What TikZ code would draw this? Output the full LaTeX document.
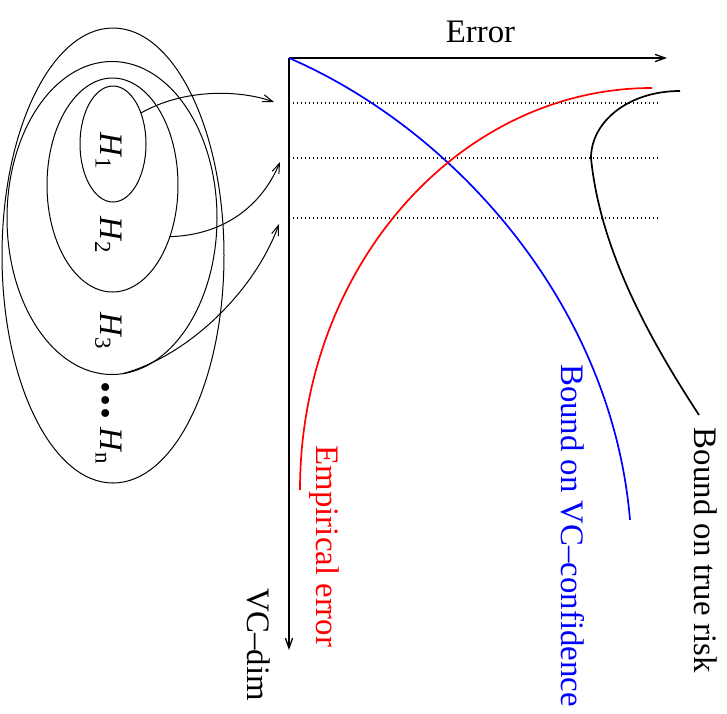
\documentclass[tikz,border=0pt]{standalone}
\usepackage{fontspec}
\setmainfont{Liberation Serif}
\usetikzlibrary{arrows.meta, shapes.geometric}

\begin{document}
\begin{tikzpicture}[
  x=0.5pt, y=-0.5pt,
  >={Straight Barb[length=5pt, width=3.6pt]},
  hset/.style 2 args={
    draw, shape=ellipse, line width=0.5pt, inner sep=0pt, outer sep=0pt,
    minimum width=#1, minimum height=#2
  },
  hlbl/.style={rotate=-90, font=\fontsize{16.4}{19}\selectfont, inner sep=0pt},
  arr/.style={->, line width=0.5pt},
  axis/.style={->, line width=0.65pt},
  guide/.style={line width=0.55pt, dash pattern=on 0.55pt off 1.45pt},
  curve/.style={line width=0.85pt},
  lbl/.style={font=\fontsize{16.4}{19}\selectfont, inner sep=0pt},
]

% Canvas
\useasboundingbox (0,0) rectangle (727,713);

% =============================================
% Nested hypothesis sets
% =============================================
\node[hset={111pt}{227.5pt}] (hn) at (113,255.5) {};
\node[hset={105pt}{156.5pt}] (h3) at (112,218) {};
\node[hset={65.5pt}{107pt}] (h2) at (112.5,185) {};
\node[hset={33pt}{58pt}] (h1) at (113,144) {};

\node[hlbl] (lh1) at (109,151.5) {\textit{H}\textsubscript{1}};
\node[hlbl] (lh2) at (108.5,235) {\textit{H}\textsubscript{2}};
\node[hlbl] (lh3) at (108.5,331.5) {\textit{H}\textsubscript{3}};
\node[hlbl, font=\fontsize{24}{24}\selectfont\bfseries] (ldots) at (106,400.5) {.\kern0.3pt.\kern0.3pt.};
\node[hlbl] (lhn) at (109,446) {\textit{H}\textsubscript{n}};

% =============================================
% Axes
% =============================================
\coordinate (o) at (289,58);
\coordinate (xend) at (667,58);
\coordinate (yend) at (289,650);

\draw[axis] (o) -- (xend);
\draw[axis] (o) -- (yend);

\node[lbl] (err) at (480.5,31.5) {Error};
\node[lbl, rotate=-90] (vcdim) at (258.5,644.5) {VC--dim};

% Guides at the three capacities
\draw[guide] (293,103) -- (658,103);
\draw[guide] (293,158) -- (658,158);
\draw[guide] (293,218) -- (658,218);

% Arrows from the sets to the axis
\coordinate (t1) at (274,102);
\coordinate (t2) at (280,162);
\coordinate (t3) at (279,224);

\draw[arr] (h1.48) .. controls (185,88) and (240,90) .. (t1);
\draw[arr] (h2.-42) .. controls (225,235) and (262,205) .. (t2);
\draw[arr] (h3.-86) .. controls (190,355) and (255,290) .. (t3);

% =============================================
% Curves
% =============================================
\draw[curve, blue] (o) .. controls (455,130) and (612,305) .. (630,520);
\draw[curve, red] (300,490) .. controls (300,268) and (458,88) .. (652,88);
\draw[curve, black] (680,91) .. controls (628,91) and (591,122) .. (591,158)
  .. controls (600,250) and (650,340) .. (699,415);

% Curve labels
\node[lbl, rotate=-90, text=red] (emp) at (324,546.5) {Empirical error};
\node[lbl, rotate=-90, text=blue] (conf) at (572.5,535.5) {Bound on VC--confidence};
\node[lbl, rotate=-90] (risk) at (705.5,550.5) {Bound on true risk};

\end{tikzpicture}
\end{document}
